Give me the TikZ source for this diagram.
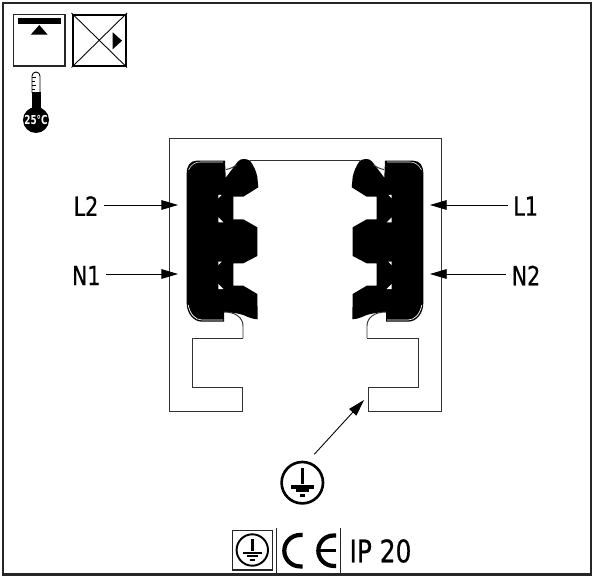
\documentclass[tikz,border=0pt]{standalone}
\usepackage{fontspec}
\setmainfont{DejaVu Sans}
\newfontfamily\markfont[FakeBold=0.6]{DejaVu Sans}
\usetikzlibrary{arrows.meta}
\tikzset{
	wire/.style={black!80, line width=0.55pt},
	pointer/.style={black, line width=0.5pt, -{Triangle[length=9.5pt,width=5.5pt]}},
	wirelabel/.style={font=\markfont\fontsize{15}{17}\selectfont, xscale=.78, inner sep=4pt},
}
% one clip of the rail, drawn on the left, mirrored for the right
\newcommand{\railclip}{%
	\fill[black] (196.7,160.7) -- (225,160.7) -- (225.7,177.7) -- (237.3,162.3)
		.. controls (239,160) and (241,159) .. (243.3,159) .. controls (246,159) and (248,159.5) .. (250,160.7)
		.. controls (254,166) and (256,171) .. (257.3,176.7) -- (258.3,187.3)
		-- (243.3,196.7) -- (233.3,196.7) -- (233.3,219.3) -- (243.3,219.3)
		-- (257.3,227.3) -- (257.3,256) -- (243.3,263.3) -- (233.3,263.3) -- (233.3,285.7) -- (243.3,285.7)
		-- (257.3,294) -- (257.7,319.3) .. controls (252,319) and (248,317) .. (243.3,315)
		.. controls (237,313) and (230,312.5) .. (224,311.7) -- (224,321.7) -- (202,321.7)
		.. controls (193,321.7) and (186.7,313) .. (186.7,303) -- (186.7,173.3)
		.. controls (186.7,166) and (190,160.7) .. (196.7,160.7) -- cycle;
	\fill[white] (218.3,195) -- (221.7,195) -- (218.3,198.3) -- cycle;
	\fill[white] (218.3,217.3) -- (223.3,222.3) -- (218.3,222.3) -- cycle;
	\fill[white] (218.3,261.7) -- (221.7,261.7) -- (218.3,265) -- cycle;
	\fill[white] (218.3,284) -- (223.3,289) -- (218.3,289) -- cycle;
	\draw[white, line width=0.4pt] (223,320) -- (202,320) .. controls (195,320) and (190,314) .. (188.2,305);
	\draw[white, line width=0.3pt] (223,162) -- (200,162) .. controls (195,162) and (191,165) .. (188.5,170);
	\draw[wire] (226,169.5) .. controls (230,169) and (233,167) .. (237,165);
	\draw[wire] (224,312) .. controls (236,312) and (243,318) .. (243,326) -- (243,338);
}
\begin{document}
\begin{tikzpicture}[x=0.02cm, y=-0.02cm]
	\useasboundingbox (0,0) rectangle (594,577);
	\draw[black!85, line width=1.5pt] (3,3) rectangle (591,574.5);

	% mounting icons
	\draw[black!85, line width=1pt] (13.5,14.5) rectangle (65,66);
	\fill[black] (17.5,18) rectangle (61,23.7);
	\fill[black] (30.7,34.7) -- (47.7,34.7) -- (39.3,25) -- cycle;
	\draw[black, line width=1pt] (73,15) rectangle (125.7,66);
	\draw[black, line width=0.5pt] (71.5,67.5) -- (127,13);
	\draw[black, line width=0.5pt] (71.5,13) -- (127,67.5);
	\fill[black] (112.7,32.3) -- (112.7,49.3) -- (122,40.7) -- cycle;

	% thermometer
	\draw[black, line width=0.5pt] (32,93) -- (32,76) arc (180:360:4) -- (40,93);
	\fill[black] (31.5,92) rectangle (40.5,112);
	\fill[black] (36,120) circle (13);
	\draw[black, line width=0.4pt] (32,77) -- (36,77) (32,81) -- (35,81) (32,85) -- (36,85) (32,89) -- (35,89);
	\node[text=white, inner sep=0pt, font=\fontsize{7}{8}\bfseries, xscale=.72] (templabel) at (36,120) {25°C};

	% rail profile
	\draw[wire] (243,338) -- (192,338) -- (192,387) -- (242,387) -- (242,411) -- (169,411) -- (169,138)
		-- (441,138) -- (441,411) -- (368,411) -- (368,387) -- (418,387) -- (418,338) -- (367,338);
	\draw[wire] (250,160.7) -- (360,160.7);
	\railclip
	\begin{scope}[shift={(610,0)}, xscale=-1]
		\railclip
	\end{scope}

	% conductors
	\node[wirelabel] (L2) at (86,206) {L2};
	\node[wirelabel] (N1) at (86.3,275.5) {N1};
	\node[wirelabel] (L1) at (525.7,206) {L1};
	\node[wirelabel] (N2) at (526,275.5) {N2};
	\coordinate (L2tip) at (178,205);
	\coordinate (N1tip) at (178,274);
	\coordinate (L1tip) at (430,205);
	\coordinate (N2tip) at (430,274);
	\draw[pointer] (L2.east |- L2tip) -- (L2tip);
	\draw[pointer] (N1.east |- N1tip) -- (N1tip);
	\draw[pointer] (L1.west |- L1tip) -- (L1tip);
	\draw[pointer] (N2.west |- N2tip) -- (N2tip);

	% earth
	\coordinate (earthtail) at (314.3,454.3);
	\coordinate (earthtip) at (364,400);
	\draw[pointer] (earthtail) -- (earthtip);
	\draw[black, line width=1.5pt] (302.3,482.7) circle (20.7);
	\fill[black] (300.5,468) rectangle (304.1,484);
	\fill[black] (290.7,484.5) rectangle (314,488.5);
	\fill[black] (296,488.5) rectangle (308.5,492);
	\fill[black] (300,493.5) rectangle (305,497);

	% marks at the foot
	\draw[black!85, line width=0.8pt] (232.7,530.7) rectangle (272.3,570);
	\draw[black, line width=1.1pt] (252.3,550) circle (15.7);
	\fill[black] (251,539) rectangle (253.6,551);
	\fill[black] (242.5,551.5) rectangle (262,553.7);
	\fill[black] (247,555) rectangle (257.5,557.2);
	\fill[black] (250,558.5) rectangle (254.5,560.7);
	\draw[black!85, line width=0.5pt] (276.3,528) -- (276.3,572.7);
	\draw[black!85, line width=0.5pt] (340,528) -- (340,572.7);
	\draw[black, line width=2.4pt] (302.5,535) -- (300,535) arc (270:90:15.7) -- (302.5,566.4);
	\draw[black, line width=2.4pt] (336,535.5) -- (333.5,535.5) arc (270:90:15.2) -- (336,565.9);
	\draw[black, line width=1.6pt] (319,550.7) -- (336,550.7);
	\node[font=\markfont\fontsize{17.7}{20}\selectfont, xscale=.8, inner sep=0pt] (ipclass) at (380.5,551) {IP 20};
\end{tikzpicture}
\end{document}
